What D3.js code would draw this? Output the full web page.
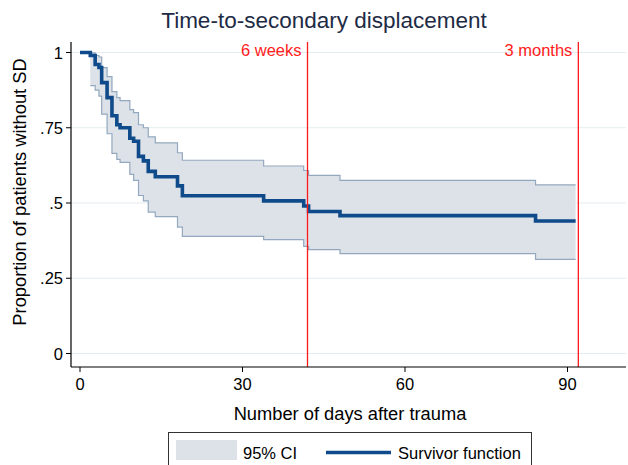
<!DOCTYPE html>
<html><head><meta charset="utf-8">
<script src="https://cdn.jsdelivr.net/npm/d3@7"></script>
<style>body{margin:0;background:#fff}svg{display:block}text{font-family:"Liberation Sans",Arial,sans-serif}</style>
</head><body>
<svg id="c" width="628" height="465"></svg>
<script>
const times = [0, 1.9, 2.8, 3.5, 4.0, 5.0, 5.9, 6.8, 7.4, 9.2, 9.9, 10.8, 11.7, 12.6, 13.9, 18.0, 18.9, 33.9, 41.3, 42.2, 48.0, 84.1];
const endTime = 91.5;
const survival = [1, 0.99, 0.96, 0.95, 0.90, 0.85, 0.79, 0.76, 0.75, 0.715, 0.705, 0.655, 0.64, 0.605, 0.587, 0.557, 0.524, 0.507, 0.49, 0.472, 0.458, 0.44];
const upperCI = [1, 0.999, 0.99, 0.985, 0.95, 0.92, 0.87, 0.85, 0.84, 0.81, 0.80, 0.76, 0.75, 0.72, 0.70, 0.667, 0.642, 0.623, 0.608, 0.592, 0.575, 0.56];
const lowerCI = [1, 0.89, 0.875, 0.855, 0.795, 0.73, 0.665, 0.645, 0.635, 0.595, 0.575, 0.525, 0.507, 0.47, 0.455, 0.42, 0.389, 0.378, 0.356, 0.345, 0.332, 0.313];
const xTicks = [0, 30, 60, 90];
const yTicks = [0, 0.25, 0.5, 0.75, 1];
const yTickLabels = ["0", ".25", ".5", ".75", "1"];
const refLines = [42, 92];
const refLabels = ["6 weeks", "3 months"];

const svg = d3.select("#c");
const x = d3.scaleLinear().domain([0, 90]).range([80, 567.5]);
const y = d3.scaleLinear().domain([0, 1]).range([353.5, 52.5]);
const plotL = 71, plotR = 626, plotT = 42, plotB = 367;

// grid
svg.append("g").selectAll("line").data(yTicks).join("line")
  .attr("x1", plotL).attr("x2", plotR)
  .attr("y1", d => y(d)).attr("y2", d => y(d))
  .attr("stroke", "#e3ecef").attr("stroke-width", 1);

const data = times.map((t, i) => ({t, s: survival[i], u: upperCI[i], l: lowerCI[i]}));
data.push({t: endTime, s: survival[survival.length-1], u: upperCI[upperCI.length-1], l: lowerCI[lowerCI.length-1]});

const area = d3.area().curve(d3.curveStepAfter).x(d => x(d.t)).y0(d => y(d.l)).y1(d => y(d.u));
svg.append("path").datum(data.slice(1)).attr("d", area).attr("fill", "#dde2e9");
const lineU = d3.line().curve(d3.curveStepAfter).x(d => x(d.t)).y(d => y(d.u));
const lineL = d3.line().curve(d3.curveStepAfter).x(d => x(d.t)).y(d => y(d.l));
svg.append("path").datum(data.slice(1)).attr("d", lineU).attr("fill", "none").attr("stroke", "#93a8be").attr("stroke-width", 1.2);
svg.append("path").datum(data.slice(1)).attr("d", lineL).attr("fill", "none").attr("stroke", "#93a8be").attr("stroke-width", 1.2);

const lineS = d3.line().curve(d3.curveStepAfter).x(d => x(d.t)).y(d => y(d.s));
svg.append("path").datum(data).attr("d", lineS).attr("fill", "none").attr("stroke", "#0f4a8a").attr("stroke-width", 3.6);

// reference lines
refLines.forEach((r, i) => {
  svg.append("line").attr("x1", x(r)).attr("x2", x(r)).attr("y1", plotT).attr("y2", plotB)
    .attr("stroke", "#ff1a1a").attr("stroke-width", 1.3);
  svg.append("text").attr("x", x(r) - 6).attr("y", 56).attr("text-anchor", "end")
    .attr("font-size", 16.5).attr("fill", "#ff2020").text(refLabels[i]);
});

// axes
const yAxis = svg.append("g");
yAxis.append("line").attr("x1", plotL).attr("x2", plotL).attr("y1", plotT).attr("y2", plotB).attr("stroke", "#000").attr("stroke-width", 1.2);
yAxis.selectAll("line.t").data(yTicks).join("line").attr("class", "t")
  .attr("x1", plotL - 5).attr("x2", plotL).attr("y1", d => y(d)).attr("y2", d => y(d)).attr("stroke", "#000");
yAxis.selectAll("text").data(yTicks).join("text")
  .attr("x", plotL - 8).attr("y", d => y(d) + 6).attr("text-anchor", "end")
  .attr("font-size", 16.5).attr("fill", "#000").text((d, i) => yTickLabels[i]);

const xAxis = svg.append("g");
xAxis.append("line").attr("x1", plotL).attr("x2", plotR).attr("y1", plotB).attr("y2", plotB).attr("stroke", "#000").attr("stroke-width", 1.2);
xAxis.selectAll("line.t").data(xTicks).join("line").attr("class", "t")
  .attr("x1", d => x(d)).attr("x2", d => x(d)).attr("y1", plotB).attr("y2", plotB + 5).attr("stroke", "#000");
xAxis.selectAll("text").data(xTicks).join("text")
  .attr("x", d => x(d)).attr("y", 390).attr("text-anchor", "middle")
  .attr("font-size", 16.5).attr("fill", "#000").text(d => d);

svg.append("text").attr("x", 350).attr("y", 420).attr("text-anchor", "middle")
  .attr("font-size", 18.3).attr("fill", "#000").text("Number of days after trauma");
svg.append("text").attr("transform", "translate(26,192) rotate(-90)").attr("text-anchor", "middle")
  .attr("font-size", 18.3).attr("fill", "#000").text("Proportion of patients without SD");
svg.append("text").attr("x", 324).attr("y", 28).attr("text-anchor", "middle")
  .attr("font-size", 22.5).attr("fill", "#1e2b45").text("Time-to-secondary displacement");

// legend
const lg = svg.append("g");
lg.append("rect").attr("x", 168.5).attr("y", 432.5).attr("width", 363).attr("height", 40)
  .attr("fill", "#fff").attr("stroke", "#333").attr("stroke-width", 1);
lg.append("rect").attr("x", 176).attr("y", 440).attr("width", 61).attr("height", 20).attr("fill", "#dde2e9");
lg.append("text").attr("x", 243).attr("y", 459).attr("font-size", 16.5).attr("fill", "#000").text("95% CI");
lg.append("line").attr("x1", 326).attr("x2", 391).attr("y1", 452.5).attr("y2", 452.5).attr("stroke", "#0f4a8a").attr("stroke-width", 3.6);
lg.append("text").attr("x", 398).attr("y", 459).attr("font-size", 16.5).attr("fill", "#000").text("Survivor function");
</script>
</body></html>
